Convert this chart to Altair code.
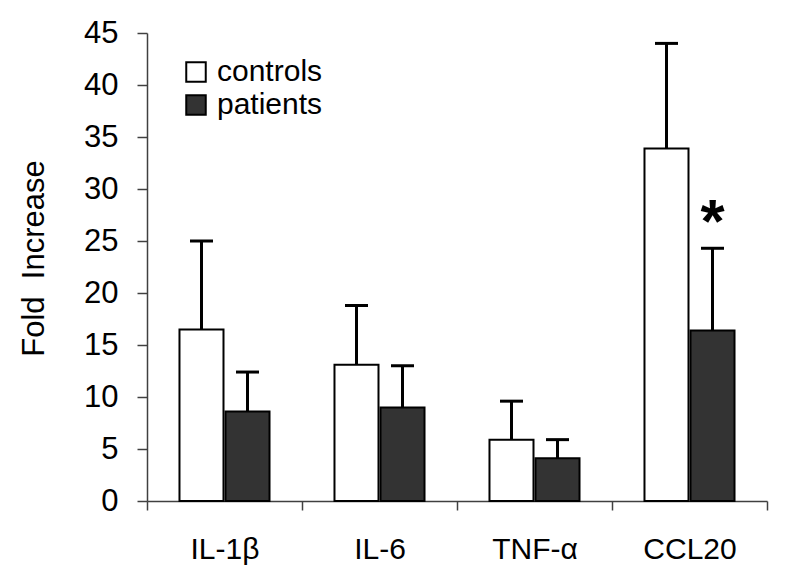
import altair as alt
import pandas as pd

categories = ["IL-1β", "IL-6", "TNF-α", "CCL20"]
groups = ["controls", "patients"]
controls_mean = [16.5, 13.1, 5.9, 33.9]
controls_sd = [8.5, 5.7, 3.7, 10.1]
patients_mean = [8.6, 9.0, 4.1, 16.4]
patients_sd = [3.8, 4.0, 1.8, 7.9]
y_ticks = [0, 5, 10, 15, 20, 25, 30, 35, 40, 45]
star_category = "CCL20"
star_group = "patients"
star_y = 24.9

rows = []
for i, c in enumerate(categories):
    rows.append({"cytokine": c, "group": "controls", "mean": controls_mean[i],
                 "top": round(controls_mean[i] + controls_sd[i], 2)})
    rows.append({"cytokine": c, "group": "patients", "mean": patients_mean[i],
                 "top": round(patients_mean[i] + patients_sd[i], 2)})
df = pd.DataFrame(rows)
star_df = pd.DataFrame({"cytokine": [star_category], "group": [star_group],
                        "y": [star_y], "label": ["*"]})

FONT = "Liberation Sans"
AXC = "#404040"

x_enc = alt.X("cytokine:N", sort=categories,
              scale=alt.Scale(paddingInner=0, paddingOuter=0),
              axis=alt.Axis(title=None, labelAngle=0, labelFontSize=30, labelFont=FONT,
                            labelColor="black", tickSize=9, labelPadding=24,
                            tickBand="extent", domainColor=AXC, tickColor=AXC,
                            domainWidth=1.5, tickWidth=1.5))
xo_enc = alt.XOffset("group:N", sort=groups,
                     scale=alt.Scale(paddingInner=0.0435, paddingOuter=0.706))
y_scale = alt.Scale(domain=[0, 45])

bars = alt.Chart(df).mark_bar(stroke="black", strokeWidth=2).encode(
    x=x_enc,
    xOffset=xo_enc,
    y=alt.Y("mean:Q", scale=y_scale,
            axis=alt.Axis(values=y_ticks, tickSize=10, labelPadding=19, labelFontSize=31,
                          labelFont=FONT, labelColor="black", domainColor=AXC,
                          tickColor=AXC, domainWidth=1.5, tickWidth=1.5, grid=False,
                          title="Fold\u00a0 Increase", titleFontSize=31, titleFont=FONT,
                          titleFontWeight="normal", titleColor="black", titleX=-104,
                          titleY=225, titleAngle=270, titleBaseline="alphabetic",
                          titleAlign="center")),
    fill=alt.Fill("group:N", sort=groups,
                  scale=alt.Scale(domain=groups, range=["white", "#333333"]),
                  legend=alt.Legend(title=None, orient="none", legendX=34, legendY=24,
                                    symbolType="square", symbolSize=380,
                                    symbolStrokeColor="black", symbolStrokeWidth=2,
                                    labelFontSize=30, labelFont=FONT, labelColor="black",
                                    rowPadding=3, labelOffset=6, padding=0)),
)

err = alt.Chart(df).mark_rule(strokeWidth=3, color="black", xOffset=-5).encode(
    x=alt.X("cytokine:N", sort=categories),
    xOffset=alt.XOffset("group:N", sort=groups),
    y=alt.Y("mean:Q"),
    y2="top:Q",
)
caps = alt.Chart(df).mark_tick(thickness=3, size=23, color="black", xOffset=-5,
                               orient="horizontal", opacity=1).encode(
    x=alt.X("cytokine:N", sort=categories),
    xOffset=alt.XOffset("group:N", sort=groups),
    y=alt.Y("top:Q"),
)
star = alt.Chart(star_df).mark_text(fontSize=62, fontWeight="bold", font=FONT,
                                    baseline="alphabetic", color="black").encode(
    x=alt.X("cytokine:N", sort=categories),
    xOffset=alt.XOffset("group:N", sort=groups),
    y=alt.Y("y:Q"),
    text="label:N",
)

chart = alt.layer(bars, err, caps, star).properties(
    width=620, height=468,
    autosize="none",
    padding={"left": 139, "top": 25, "right": 13, "bottom": 76},
).configure_view(stroke=None)

chart.save("out.html", embed_options={"renderer": "svg", "actions": False})
